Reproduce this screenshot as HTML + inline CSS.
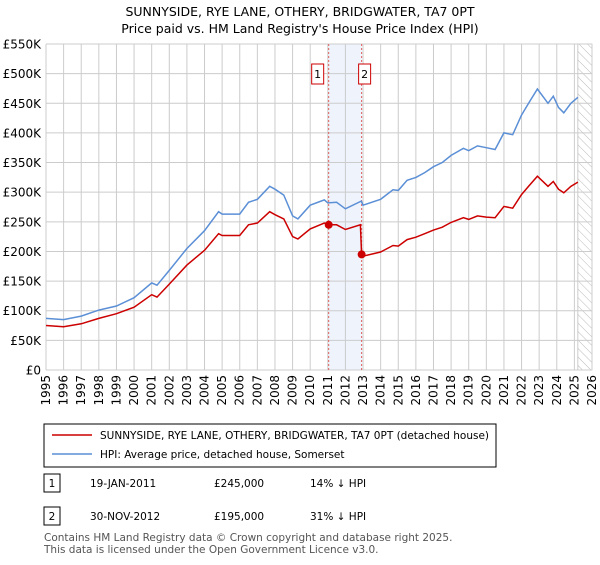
<!DOCTYPE html>
<html><head><meta charset="utf-8"><style>
body{margin:0;background:#fff;font-family:"Liberation Sans",sans-serif;}
svg text{font-family:"DejaVu Sans","Liberation Sans",sans-serif;}
</style></head><body>
<svg width="600" height="560" xmlns="http://www.w3.org/2000/svg">
<defs><pattern id="hatch" width="6" height="6" patternUnits="userSpaceOnUse" patternTransform="rotate(-45)"><line x1="0" y1="0" x2="0" y2="6" stroke="#bbb" stroke-width="1"/></pattern></defs>
<text x="300" y="16" text-anchor="middle" font-size="12.5">SUNNYSIDE, RYE LANE, OTHERY, BRIDGWATER, TA7 0PT</text>
<text x="300" y="33" text-anchor="middle" font-size="12.5">Price paid vs. HM Land Registry's House Price Index (HPI)</text>
<g id="grid"></g>
<g id="marks"></g>
<g id="axes"></g>
<rect x="44" y="424" width="452" height="43" fill="#fff" stroke="#000" stroke-width="1"/>
<line x1="52" y1="435" x2="92" y2="435" stroke="#cc0000" stroke-width="1.5"/>
<text x="100" y="439" font-size="10.5">SUNNYSIDE, RYE LANE, OTHERY, BRIDGWATER, TA7 0PT (detached house)</text>
<line x1="52" y1="454" x2="92" y2="454" stroke="#5b8fd6" stroke-width="1.5"/>
<text x="100" y="458" font-size="10.5">HPI: Average price, detached house, Somerset</text>
<rect x="44" y="474" width="16" height="18" fill="#fff" stroke="#000"/>
<text x="52" y="487" font-size="10.5" text-anchor="middle">1</text>
<text x="90" y="487" font-size="10.5">19-JAN-2011</text>
<text x="214" y="487" font-size="10.5">£245,000</text>
<text x="310" y="487" font-size="10.5">14% ↓ HPI</text>
<rect x="44" y="507" width="16" height="18" fill="#fff" stroke="#000"/>
<text x="52" y="520" font-size="10.5" text-anchor="middle">2</text>
<text x="90" y="520" font-size="10.5">30-NOV-2012</text>
<text x="214" y="520" font-size="10.5">£195,000</text>
<text x="310" y="520" font-size="10.5">31% ↓ HPI</text>
<text x="44" y="541" font-size="10.5" fill="#555">Contains HM Land Registry data © Crown copyright and database right 2025.</text>
<text x="44" y="553" font-size="10.5" fill="#555">This data is licensed under the Open Government Licence v3.0.</text>
</svg>
<script>
const hpiYears=[1995,1996,1997,1998,1999,2000,2001,2001.3,2002,2003,2004,2004.8,2005,2006,2006.5,2007,2007.7,2008,2008.5,2009,2009.3,2010,2010.8,2011,2011.5,2012,2012.9,2013,2014,2014.7,2015,2015.5,2016,2016.5,2017,2017.5,2018,2018.7,2019,2019.5,2020,2020.5,2021,2021.5,2022,2022.4,2022.9,2023.5,2023.8,2024.1,2024.4,2024.8,2025.2];
const hpiValues=[87,85,91,101,108,122,147,143,168,205,235,267,263,263,283,288,310,305,295,260,255,278,287,282,283,272,285,278,288,304,303,320,325,333,343,350,362,374,370,378,375,372,400,397,430,450,474,450,462,443,434,450,460];
const priceYears=[1995,1996,1997,1998,1999,2000,2001,2001.3,2002,2003,2004,2004.8,2005,2006,2006.5,2007,2007.7,2008,2008.5,2009,2009.3,2010,2010.8,2011.05,2011.5,2012,2012.85,2012.92,2013,2014,2014.7,2015,2015.5,2016,2016.5,2017,2017.5,2018,2018.7,2019,2019.5,2020,2020.5,2021,2021.5,2022,2022.4,2022.9,2023.5,2023.8,2024.1,2024.4,2024.8,2025.2];
const priceValues=[75,73,78,87,95,106,127,123,145,177,202,230,227,227,245,248,267,262,255,225,221,238,248,245,245,237,245,195,192,199,210,209,220,224,230,236,241,249,257,254,260,258,257,276,273,296,310,327,310,318,305,299,310,317];
const saleYears=[2011.05,2012.92];
const saleValues=[245,195];
const saleLabels=["1","2"];
const yTicks=[0,50,100,150,200,250,300,350,400,450,500,550];
const yTickLabels=["£0","£50K","£100K","£150K","£200K","£250K","£300K","£350K","£400K","£450K","£500K","£550K"];
const xTicks=[1995,1996,1997,1998,1999,2000,2001,2002,2003,2004,2005,2006,2007,2008,2009,2010,2011,2012,2013,2014,2015,2016,2017,2018,2019,2020,2021,2022,2023,2024,2025,2026];

const NS="http://www.w3.org/2000/svg";
const X0=46,X1=592,Y0=370,Y1=44,xmin=1995,xmax=2026,ymax=550;
const sx=v=>X0+(v-xmin)/(xmax-xmin)*(X1-X0);
const sy=v=>Y0-v/ymax*(Y0-Y1);
function mk(t,a,p){const e=document.createElementNS(NS,t);for(const k in a)e.setAttribute(k,a[k]);p.appendChild(e);return e;}
const grid=document.getElementById('grid'),marks=document.getElementById('marks'),axes=document.getElementById('axes');
const band=mk('rect',{x:sx(saleYears[0]),y:Y1,width:sx(saleYears[1])-sx(saleYears[0]),height:Y0-Y1,fill:'#eef3fc'},grid);


const hat=mk('rect',{x:sx(2025.2),y:Y1,width:X1-sx(2025.2),height:Y0-Y1,fill:'url(#hatch)',stroke:'#999','stroke-width':0.5},grid);


yTicks.forEach((v,i)=>{
 const l=mk('line',{x1:X0,x2:X1,y1:sy(v),y2:sy(v),stroke:'#ccc','stroke-width':1},grid);
 
 
 const t=mk('text',{x:X0-5,y:sy(v)+4.5,'text-anchor':'end','font-size':12},axes);
 t.textContent=yTickLabels[i];
 
 
});
xTicks.forEach(v=>{
 const l=mk('line',{x1:sx(v),x2:sx(v),y1:Y1,y2:Y0,stroke:'#ccc','stroke-width':1},grid);
 
 
 const t=mk('text',{x:0,y:0,'text-anchor':'end','font-size':12,transform:`translate(${sx(v)+4},${Y0+5}) rotate(-90)`},axes);
 t.textContent=v;
 
 
});
saleYears.forEach((v,i)=>{
 const l=mk('line',{x1:sx(v),x2:sx(v),y1:Y1,y2:Y0,stroke:'#e06060','stroke-dasharray':'2,2','stroke-width':1},marks);
 
 
});
function path(xs,ys,col,name){
 const d=xs.map((x,i)=>(i?'L':'M')+sx(x).toFixed(1)+','+sy(ys[i]).toFixed(1)).join('');
 const p=mk('path',{d:d,fill:'none',stroke:col,'stroke-width':1.5},marks);
 
 
}
path(hpiYears,hpiValues,'#5b8fd6','hpi-line');
path(priceYears,priceValues,'#cc0000','price-paid-line');
saleYears.forEach((v,i)=>{
 const c=mk('circle',{cx:sx(v),cy:sy(saleValues[i]),r:4,fill:'#cc0000'},marks);
 
 
 const bx=sx(v)-(i==0?15:-3);
 const r=mk('rect',{x:sx(v)-(i==0?11:-3)-6,y:64,width:12,height:20,fill:'#fff',stroke:'#cc0000'},marks);
 
 
 const t=mk('text',{x:sx(v)-(i==0?11:-3),y:78,'text-anchor':'middle','font-size':11},marks);
 t.textContent=saleLabels[i];
 
 
});
</script>
</body></html>
